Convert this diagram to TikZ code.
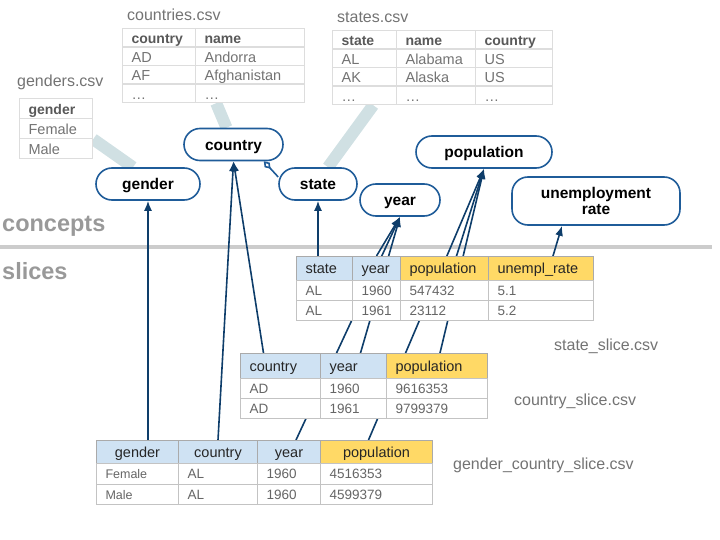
\documentclass[tikz,border=0pt]{standalone}
\usepackage{fontspec}
\setmainfont{Liberation Sans}
\usetikzlibrary{arrows.meta,backgrounds}

\definecolor{conceptblue}{HTML}{1F5C99}
\definecolor{arrowblue}{HTML}{0E3D6A}
\definecolor{dimfill}{HTML}{CFE2F3}
\definecolor{msrfill}{HTML}{FFD966}
\definecolor{linkgray}{HTML}{D0E0E3}
\definecolor{rulegray}{HTML}{CCCCCC}
\definecolor{srcline}{HTML}{DDDDDD}
\definecolor{slcline}{HTML}{AAAAAA}

\tikzset{
  concept/.style={draw=conceptblue, line width=1.6pt, fill=white, rounded corners=16pt,
    minimum height=32pt, inner sep=0pt, align=center, text height=14pt, text depth=2pt,
    font=\fontsize{15.5}{17}\selectfont\bfseries},
  srchead/.style={anchor=north west, draw=srcline, line width=1.2pt, fill=white,
    minimum height=18.5pt, inner xsep=9pt, inner ysep=0pt, align=left,
    text height=14pt, text depth=2pt,
    text=black!65, font=\fontsize{14}{16}\selectfont\bfseries},
  srccell/.style={srchead, text=black!55, font=\fontsize{14.5}{16}\selectfont},
  slchead/.style={anchor=north west, draw=slcline, line width=1pt,
    inner xsep=9pt, inner ysep=0pt, align=left, text height=13pt, text depth=3pt,
    text=black!85, font=\fontsize{14.5}{16}\selectfont},
  slccell/.style={anchor=north west, draw=slcline!70, line width=1pt, fill=white,
    minimum height=20pt, inner xsep=9pt, inner ysep=0pt, align=left,
    text height=13pt, text depth=3pt,
    text=black!60, font=\fontsize{13.5}{15}\selectfont},
  filelabel/.style={anchor=base west, inner sep=0pt, text=black!55,
    font=\fontsize{16}{18}\selectfont},
  sectionlabel/.style={anchor=base west, inner sep=0pt, text=black!40,
    font=\fontsize{23.5}{26}\selectfont\bfseries},
  srclink/.style={line width=12pt, linkgray},
  dimarrow/.style={line width=1.6pt, arrowblue, -{Latex[length=10pt,width=8pt]}},
  aggr/.style={line width=1.6pt, conceptblue, {Diamond[open,length=10pt,width=7pt]}-}
}

\begin{document}
\begin{tikzpicture}[x=1pt, y=-1pt]
  \useasboundingbox (0,0) rectangle (720,540);

  % concepts
  \node[concept, minimum width=99pt] (country) at (233.5,144.5) {country};
  \node[concept, minimum width=104pt] (gender) at (148,184) {gender};
  \node[concept, minimum width=78pt] (state) at (318,184) {state};
  \node[concept, minimum width=80pt] (year) at (400,200) {year};
  \node[concept, minimum width=136pt] (population) at (484,152) {population};
  \node[concept, minimum width=168pt, minimum height=48pt, text height={}, text depth={},
    font=\fontsize{15.5}{16.5}\selectfont\bfseries] (unemp) at (596,201) {unemployment\\rate};

  \node[sectionlabel] (lbl-concepts) at (2,231) {concepts};
  \node[sectionlabel] (lbl-slices) at (2,279) {slices};

  % source tables
  \node[filelabel] (lbl-countries) at (127,21) {countries.csv};
  \node[srchead, text width=55pt] (ct-0-1) at (122,28) {country};
  \node[srchead, text width=91pt] (ct-0-2) at (195,28) {name};
  \foreach \r/\y/\va/\vb in {1/46.5/AD/Andorra, 2/65/AF/Afghanistan, 3/83.5/\ldots/\ldots} {
    \node[srccell, text width=55pt] (ct-\r-1) at (122,\y) {\va};
    \node[srccell, text width=91pt] (ct-\r-2) at (195,\y) {\vb};
  }

  \node[filelabel] (lbl-states) at (337,23) {states.csv};
  \foreach \i/\x/\tw/\t in {1/332/46/state, 2/396/61/name, 3/475/59/country}
    \node[srchead, text width=\tw pt] (stt-0-\i) at (\x,30) {\t};
  \foreach \r/\y/\va/\vb/\vc in {1/48.5/AL/Alabama/US, 2/67/AK/Alaska/US, 3/85.5/\ldots/\ldots/\ldots} {
    \node[srccell, text width=46pt] (stt-\r-1) at (332,\y) {\va};
    \node[srccell, text width=61pt] (stt-\r-2) at (396,\y) {\vb};
    \node[srccell, text width=59pt] (stt-\r-3) at (475,\y) {\vc};
  }

  \node[filelabel] (lbl-genders) at (17,87) {genders.csv};
  \node[srchead, text width=55pt, minimum height=20pt] (gt-0) at (19,98) {gender};
  \foreach \r/\y/\va in {1/118/Female, 2/138/Male}
    \node[srccell, text width=55pt, minimum height=20pt] (gt-\r) at (19,\y) {\va};

  % slices
  \node[filelabel] (lbl-ss) at (554,350) {state\_slice.csv};
  \foreach \nm/\x/\tw/\f/\t in {st/296/38/dimfill/state, yr/352/30/dimfill/year,
      pop/400/70/msrfill/population, ur/488/87/msrfill/unempl\_rate}
    \node[slchead, fill=\f, text width=\tw pt, minimum height=24pt] (ss-\nm) at (\x,256) {\t};
  \foreach \r/\y/\va/\vb/\vc/\vd in {1/280/AL/1960/547432/5.1, 2/300/AL/1961/23112/5.2} {
    \node[slccell, text width=38pt] (ss-\r-1) at (296,\y) {\va};
    \node[slccell, text width=30pt] (ss-\r-2) at (352,\y) {\vb};
    \node[slccell, text width=70pt] (ss-\r-3) at (400,\y) {\vc};
    \node[slccell, text width=87pt] (ss-\r-4) at (488,\y) {\vd};
  }

  \node[filelabel] (lbl-cs) at (514,405) {country\_slice.csv};
  \foreach \nm/\x/\tw/\f/\t in {ct/240/62/dimfill/country, yr/320/48/dimfill/year,
      pop/386/83/msrfill/population}
    \node[slchead, fill=\f, text width=\tw pt, minimum height=25pt] (cs-\nm) at (\x,353) {\t};
  \foreach \r/\y/\va/\vb/\vc in {1/378/AD/1960/9616353, 2/398/AD/1961/9799379} {
    \node[slccell, text width=62pt] (cs-\r-1) at (240,\y) {\va};
    \node[slccell, text width=48pt] (cs-\r-2) at (320,\y) {\vb};
    \node[slccell, text width=83pt] (cs-\r-3) at (386,\y) {\vc};
  }

  \node[filelabel] (lbl-gcs) at (453,469) {gender\_country\_slice.csv};
  \foreach \nm/\x/\tw/\f/\t in {gd/96/64/dimfill/gender, ct/178/61/dimfill/country,
      yr/257/45/dimfill/year, pop/320/94/msrfill/population}
    \node[slchead, fill=\f, text width=\tw pt, minimum height=23pt, align=center] (gcs-\nm) at (\x,440) {\t};
  \foreach \r/\y/\va/\vb/\vc/\vd in {1/463/Female/AL/1960/4516353, 2/483.5/Male/AL/1960/4599379} {
    \node[slccell, minimum height=20.5pt, text width=64pt, font=\fontsize{12.5}{14}\selectfont] (gcs-\r-1) at (96,\y) {\va};
    \node[slccell, minimum height=20.5pt, text width=61pt] (gcs-\r-2) at (178,\y) {\vb};
    \node[slccell, minimum height=20.5pt, text width=45pt] (gcs-\r-3) at (257,\y) {\vc};
    \node[slccell, minimum height=20.5pt, text width=94pt] (gcs-\r-4) at (320,\y) {\vd};
  }

  \begin{pgfonlayer}{background}
    \draw[line width=4pt, rulegray] (0,247) -- (712,247);
    % sources to concepts
    \draw[srclink] (gt-1.south east) -- ([xshift=-15pt]gender.north);
    \draw[srclink] ([xshift=20pt]ct-3-1.south east) -- ([xshift=-7pt]country.north);
    \draw[srclink] ([xshift=-24pt]stt-3-1.south east) -- ([xshift=10pt]state.north);
    % slice columns to concepts
    \draw[dimarrow] (gcs-gd.north -| gender.south) -- (gender.south);
    \draw[dimarrow] (gcs-ct.north) -- (country.south);
    \draw[dimarrow] ([xshift=-17pt]cs-ct.north) -- (country.south);
    \draw[dimarrow] (ss-st.north -| state.south) -- (state.south);
    \draw[dimarrow] ([xshift=7pt]gcs-yr.north) -- (year.south);
    \draw[dimarrow] ([xshift=7pt]cs-yr.north) -- (year.south);
    \draw[dimarrow] (ss-yr.north) -- (year.south);
    \draw[dimarrow] ([xshift=-8pt]gcs-pop.north) -- (population.south);
    \draw[dimarrow] ([xshift=3pt]cs-pop.north) -- (population.south);
    \draw[dimarrow] ([xshift=12pt]ss-pop.north) -- (population.south);
    \draw[dimarrow] ([xshift=12pt]ss-ur.north) -- ([xshift=-34pt]unemp.south);
    \draw[aggr] ([xshift=-20pt]country.south east) -- (state.170);
  \end{pgfonlayer}
\end{tikzpicture}
\end{document}
